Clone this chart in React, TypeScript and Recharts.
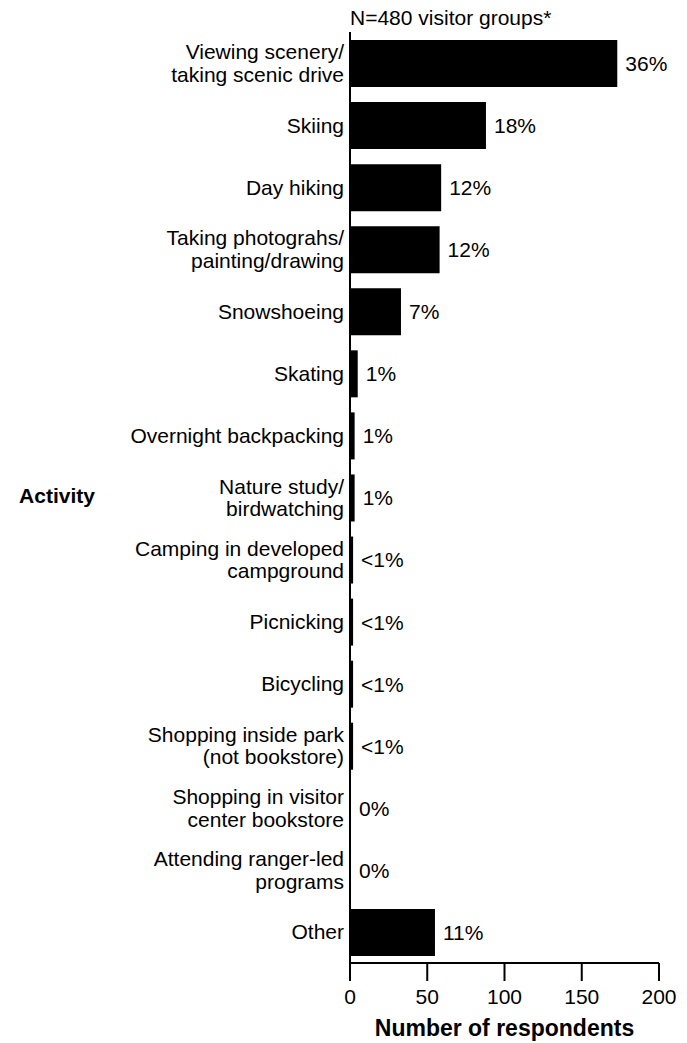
import React from "react";
import { BarChart, Bar, XAxis, YAxis, LabelList } from "recharts";

const activities = [
  "Viewing scenery/\ntaking scenic drive",
  "Skiing",
  "Day hiking",
  "Taking photograhs/\npainting/drawing",
  "Snowshoeing",
  "Skating",
  "Overnight backpacking",
  "Nature study/\nbirdwatching",
  "Camping in developed\ncampground",
  "Picnicking",
  "Bicycling",
  "Shopping inside park\n(not bookstore)",
  "Shopping in visitor\ncenter bookstore",
  "Attending ranger-led\nprograms",
  "Other",
];
const respondents = [173, 88, 59, 58, 33, 5, 3, 3, 2, 2, 2, 2, 0, 0, 55];
const percents = ["36%", "18%", "12%", "12%", "7%", "1%", "1%", "1%", "<1%", "<1%", "<1%", "<1%", "0%", "0%", "11%"];
const xTicks = [0, 50, 100, 150, 200];

const FONT = "'Liberation Sans', Arial, sans-serif";

const chartData = activities.map((a, i) => ({
  activity: a,
  count: respondents[i],
  pct: percents[i],
}));

function ActivityTick({ x, y, payload }: any) {
  const lines = String(payload.value).split("\n");
  const lh = 22.5;
  const start = y - ((lines.length - 1) * lh) / 2;
  return (
    <text x={x} y={start} textAnchor="end" fontFamily={FONT} fontSize={21} fill="#000">
      {lines.map((l, i) => (
        <tspan key={i} x={x} y={start + i * lh} dy="0.355em">
          {l}
        </tspan>
      ))}
    </text>
  );
}

export default function App() {
  return (
    <div style={{ position: "absolute", left: 0, top: 0, width: 687, height: 1043, background: "#fff" }}>
      <BarChart
        width={687}
        height={1043}
        data={chartData}
        layout="vertical"
        margin={{ top: 32, right: 28, bottom: 30, left: 0 }}
      >
        <XAxis
          type="number"
          domain={[0, 200]}
          ticks={xTicks}
          height={50}
          tickSize={18}
          tickMargin={8}
          tick={{ fill: "#000", fontSize: 21, fontFamily: FONT }}
          axisLine={{ stroke: "#000", strokeWidth: 2 }}
          tickLine={{ stroke: "#000", strokeWidth: 2 }}
        />
        <YAxis
          type="category"
          dataKey="activity"
          width={350}
          tickSize={0}
          tickMargin={6}
          tick={<ActivityTick />}
          axisLine={{ stroke: "#000", strokeWidth: 2 }}
          tickLine={false}
          interval={0}
        />
        <Bar dataKey="count" fill="#000" barSize={47} minPointSize={1} isAnimationActive={false}>
          <LabelList
            dataKey="pct"
            position="right"
            offset={8}
            style={{ fill: "#000", fontSize: 21, fontFamily: FONT }}
          />
        </Bar>
      </BarChart>
      <div
        style={{
          position: "absolute",
          left: 350,
          top: 6,
          fontFamily: FONT,
          fontSize: 21,
          color: "#000",
          whiteSpace: "nowrap",
        }}
      >
        N=480 visitor groups*
      </div>
      <div
        style={{
          position: "absolute",
          left: 0,
          width: 114,
          top: 484,
          textAlign: "center",
          fontFamily: FONT,
          fontSize: 21,
          fontWeight: "bold",
          color: "#000",
        }}
      >
        Activity
      </div>
      <div
        style={{
          position: "absolute",
          left: 350,
          width: 309,
          top: 1015,
          textAlign: "center",
          fontFamily: FONT,
          fontSize: 23,
          fontWeight: "bold",
          color: "#000",
          whiteSpace: "nowrap",
        }}
      >
        Number of respondents
      </div>
    </div>
  );
}
